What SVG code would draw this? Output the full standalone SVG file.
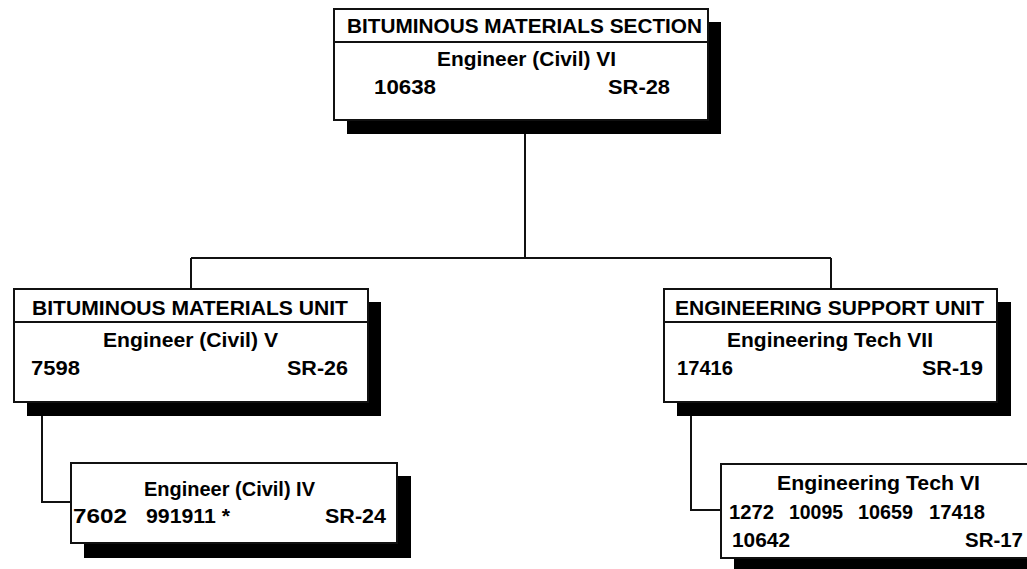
<svg xmlns="http://www.w3.org/2000/svg" width="1027" height="569" viewBox="0 0 1027 569">
<style>
.box{fill:#fff;stroke:#111;stroke-width:2}
.sh{fill:#000}
.div{stroke:#111;stroke-width:2}
.conn{fill:none;stroke:#111;stroke-width:2}
text{font-family:"Liberation Sans",Arial,sans-serif;font-weight:bold;font-size:19.5px;fill:#000}
</style>
<rect width="1027" height="569" fill="#fff"/>
<g id="connectors">
<path class="conn" d="M525 134V258M191 258H831M191 258V289M831 258V289M42 415V502H71M691 415V510H721"/>
</g>
<g id="section">
<rect class="sh" x="347" y="22" width="374" height="112"/>
<rect class="box" x="334" y="9" width="374" height="111"/>
<line class="div" x1="334" y1="42" x2="708" y2="42"/>
<text x="347" y="33" textLength="355" lengthAdjust="spacingAndGlyphs">BITUMINOUS MATERIALS SECTION</text>
<text x="437" y="66" textLength="179" lengthAdjust="spacingAndGlyphs">Engineer (Civil) VI</text>
<text x="374" y="94" textLength="62" lengthAdjust="spacingAndGlyphs">10638</text>
<text x="608" y="94" textLength="62" lengthAdjust="spacingAndGlyphs">SR-28</text>
</g>
<g id="bmu">
<rect class="sh" x="27" y="302" width="354" height="114"/>
<rect class="box" x="14" y="289" width="354" height="113"/>
<line class="div" x1="14" y1="322" x2="368" y2="322"/>
<text x="32" y="315" textLength="316" lengthAdjust="spacingAndGlyphs">BITUMINOUS MATERIALS UNIT</text>
<text x="103" y="347" textLength="175" lengthAdjust="spacingAndGlyphs">Engineer (Civil) V</text>
<text x="31" y="375" textLength="49" lengthAdjust="spacingAndGlyphs">7598</text>
<text x="287" y="375" textLength="61" lengthAdjust="spacingAndGlyphs">SR-26</text>
</g>
<g id="esu">
<rect class="sh" x="677" y="302" width="334" height="114"/>
<rect class="box" x="664" y="289" width="333" height="113"/>
<line class="div" x1="664" y1="322" x2="997" y2="322"/>
<text x="675" y="315" textLength="309" lengthAdjust="spacingAndGlyphs">ENGINEERING SUPPORT UNIT</text>
<text x="727" y="347" textLength="206" lengthAdjust="spacingAndGlyphs">Engineering Tech VII</text>
<text x="677" y="375" textLength="56" lengthAdjust="spacingAndGlyphs">17416</text>
<text x="922" y="375" textLength="61" lengthAdjust="spacingAndGlyphs">SR-19</text>
</g>
<g id="eng4">
<rect class="sh" x="84" y="476" width="327" height="82"/>
<rect class="box" x="71" y="463" width="326" height="80"/>
<text x="144" y="496" textLength="171" lengthAdjust="spacingAndGlyphs">Engineer (Civil) IV</text>
<text x="73" y="523" textLength="54" lengthAdjust="spacingAndGlyphs">7602</text>
<text x="146" y="523" textLength="84" lengthAdjust="spacingAndGlyphs">991911 *</text>
<text x="325" y="523" textLength="61" lengthAdjust="spacingAndGlyphs">SR-24</text>
</g>
<g id="tech6">
<rect class="sh" x="734" y="477" width="330" height="100"/>
<rect class="box" x="721" y="464" width="330" height="94"/>
<text x="777" y="490" textLength="203" lengthAdjust="spacingAndGlyphs">Engineering Tech VI</text>
<text x="729" y="519" textLength="45" lengthAdjust="spacingAndGlyphs">1272</text>
<text x="789" y="519" textLength="54" lengthAdjust="spacingAndGlyphs">10095</text>
<text x="858" y="519" textLength="55" lengthAdjust="spacingAndGlyphs">10659</text>
<text x="929" y="519" textLength="56" lengthAdjust="spacingAndGlyphs">17418</text>
<text x="732" y="547" textLength="58" lengthAdjust="spacingAndGlyphs">10642</text>
<text x="965" y="547" textLength="58" lengthAdjust="spacingAndGlyphs">SR-17</text>
</g>
</svg>
